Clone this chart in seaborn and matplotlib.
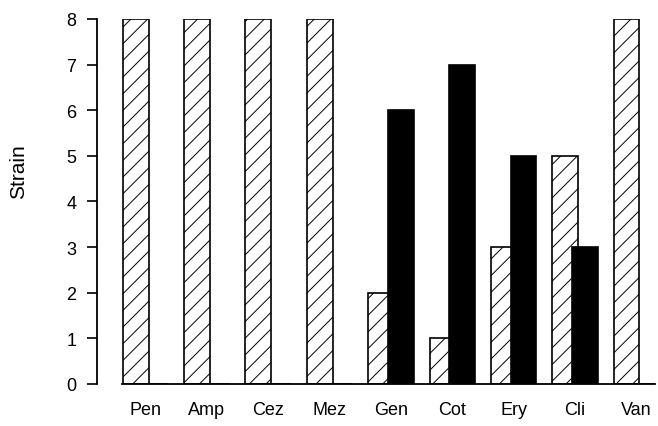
"""
Strain counts per antibiotic, hatched vs solid bars
"""

import matplotlib
matplotlib.use('Agg')
import matplotlib.pyplot as plt
import seaborn as sns
import pandas as pd

# Data
drugs = ['Pen', 'Amp', 'Cez', 'Mez', 'Gen', 'Cot', 'Ery', 'Cli', 'Van']
hatched_vals = [8, 8, 8, 8, 2, 1, 3, 5, 8]
solid_vals = [0, 0, 0, 0, 6, 7, 5, 3, 0]
y_ticks = [0, 1, 2, 3, 4, 5, 6, 7, 8]

sns.set_style("ticks", {'axes.edgecolor': 'black', 'text.color': 'black',
                        'axes.labelcolor': 'black', 'xtick.color': 'black',
                        'ytick.color': 'black'})
plt.rcParams['font.family'] = ['Liberation Sans', 'DejaVu Sans']
plt.rcParams['hatch.color'] = 'black'
plt.rcParams['hatch.linewidth'] = 0.7

df = pd.DataFrame({'Drug': drugs, 'Hatched': hatched_vals, 'Solid': solid_vals})

fig = plt.figure(figsize=(6.58, 4.27), dpi=100)
ax = fig.add_axes([0.1474, 0.0984, 0.8476, 0.8548])

bar_w = 0.42
shift = 0.16

sns.barplot(data=df, x='Drug', y='Hatched', color='white', edgecolor='black',
            linewidth=1.2, width=bar_w, hatch='//', ax=ax, zorder=2)
n_h = len(ax.patches)
sns.barplot(data=df, x='Drug', y='Solid', color='black', edgecolor='black',
            linewidth=1.2, width=bar_w, ax=ax, zorder=3)

# offset the two series so they overlap slightly, like the original
for i, p in enumerate(ax.patches):
    p.set_x(p.get_x() - shift if i < n_h else p.get_x() + shift)

ax.set_xlim(-0.79, 8.3)
ax.set_ylim(0, 8)
ax.set_yticks(y_ticks)
ax.set_xlabel('')
ax.set_ylabel('Strain', fontsize=15)
ax.yaxis.set_label_coords(-0.124, 0.585)

sns.despine(ax=ax, top=True, right=True)
ax.spines['left'].set_linewidth(1.3)
ax.spines['bottom'].set_linewidth(1.3)
ax.spines['bottom'].set_bounds(-0.38, 8.3)

ax.tick_params(axis='y', length=7, width=1.2, pad=8, labelsize=13)
ax.tick_params(axis='x', length=0, pad=12, labelsize=13)

plt.savefig('out.png', dpi=100)
